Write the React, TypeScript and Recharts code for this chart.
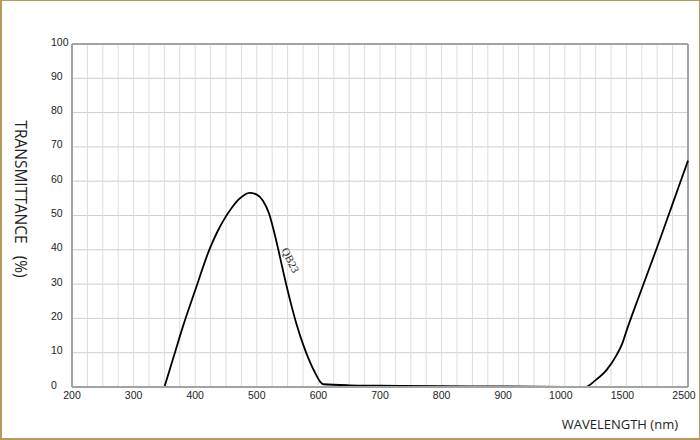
import React from 'react';
import {
  LineChart,
  Line,
  XAxis,
  YAxis,
  CartesianGrid,
  ReferenceLine,
  ReferenceDot,
} from 'recharts';

// wavelength (nm) and transmittance (%)
const wavelengths = [
  350, 365, 380, 400, 424, 435, 445, 460, 472, 488, 500, 510, 520, 527, 535, 545,
  555, 565, 575, 586, 595, 603, 608, 650, 700, 800, 900, 1000, 1100, 1164, 1250,
  1340, 1420, 1470, 1490, 1720, 2000, 2250, 2500,
];
const transmittance = [
  0, 8.8, 17.6, 28.2, 40.5, 44.9, 48.3, 52.4, 54.9, 56.6, 56.1, 54.3, 50.5, 46, 40, 32,
  24.6, 18, 12.5, 7.4, 4, 1.5, 0.8, 0.5, 0.4, 0.25, 0.15, 0.05, 0, 0, 2,
  5, 9.3, 13, 15.2, 27.2, 40.8, 53.4, 66,
];

// axis labels, evenly spaced even though the steps are not
const tickLabels = ['200', '300', '400', '500', '600', '700', '800', '900', '1000', '1500', '2500'];
const tickWavelengths = [200, 300, 400, 500, 600, 700, 800, 900, 1000, 1500, 2500];
const yTicks = [0, 10, 20, 30, 40, 50, 60, 70, 80, 90, 100];

const curveLabel = { text: 'QB23', wavelength: 555, value: 37 };

// piecewise axis: each labelled step takes one equal slot
const toSlot = (wl: number) => {
  for (let i = 0; i < tickWavelengths.length - 1; i++) {
    const a = tickWavelengths[i];
    const b = tickWavelengths[i + 1];
    if (wl <= b) return i + (wl - a) / (b - a);
  }
  return tickWavelengths.length - 1;
};

const data = wavelengths.map((wl, i) => ({ pos: toSlot(wl), t: transmittance[i] }));

const gridTicks: number[] = [];
for (let i = 0; i <= (tickLabels.length - 1) * 4; i++) gridTicks.push(i / 4);

const AXIS = '#a3a3a3';
const FONT = '"Liberation Sans", Arial, sans-serif';
const TITLE_FONT = '"Open Sans", sans-serif';

const YTick = (props: any) => {
  const { y, payload } = props;
  return (
    <text x={51} y={y} dy={1.5} fontSize={10.5} fontFamily={FONT} fill="#222" textAnchor="start">
      {payload.value}
    </text>
  );
};

const XTick = (props: any) => {
  const { x, y, payload } = props;
  const v = payload.value;
  if (Math.abs(v - Math.round(v)) > 1e-6) return null;
  const i = Math.round(v);
  // the last few labels sit a little left of their gridline
  const nudge = i >= tickLabels.length - 3 ? -4 : 0;
  return (
    <text x={x} y={y} dx={nudge} dy={4} fontSize={10.5} fontFamily={FONT} fill="#222" textAnchor="middle">
      {tickLabels[i]}
    </text>
  );
};

export default function App() {
  return (
    <div
      style={{
        position: 'absolute',
        left: 0,
        top: 0,
        width: 700,
        height: 440,
        background: '#fff',
        boxSizing: 'border-box',
        borderLeft: '2px solid #b69a5c',
        borderBottom: '2px solid #b69a5c',
        borderTop: '1px solid #b69a5c',
        borderRight: '1px solid #b69a5c',
      }}
    >
      <div style={{ position: 'absolute', left: -2, top: -1 }}>
        <LineChart width={700} height={440} data={data} margin={{ top: 44, right: 12, bottom: 23, left: 0 }}>
          <CartesianGrid vertical={false} stroke="#cfcfcf" />
          <CartesianGrid horizontal={false} stroke="#dcdcdc" />
          <XAxis
            type="number"
            dataKey="pos"
            domain={[0, tickLabels.length - 1]}
            ticks={gridTicks}
            interval={0}
            tickLine={false}
            axisLine={{ stroke: AXIS, strokeWidth: 2 }}
            tick={<XTick />}
            height={30}
            label={{
              content: () => (
                <text x={678} y={429} textAnchor="end" fontSize={13} fontFamily={TITLE_FONT} fill="#222">
                  WAVELENGTH (nm)
                </text>
              ),
            }}
          />
          <YAxis
            type="number"
            domain={[0, 100]}
            ticks={yTicks}
            interval={0}
            tickLine={false}
            axisLine={{ stroke: AXIS, strokeWidth: 2 }}
            tick={<YTick />}
            width={72}
            label={{
              content: () => (
                <text
                  x={21}
                  y={199}
                  transform="rotate(90 21 199)"
                  textAnchor="middle"
                  dominantBaseline="central"
                  fontSize={15.5}
                  fontFamily={TITLE_FONT}
                  fill="#222"
                  style={{ whiteSpace: 'pre' }}
                >
                  {'TRANSMITTANCE   (%)'}
                </text>
              ),
            }}
          />
          <ReferenceLine y={100} stroke={AXIS} strokeWidth={2} />
          <ReferenceLine x={tickLabels.length - 1} stroke={AXIS} strokeWidth={2} />
          <Line
            type="monotone"
            dataKey="t"
            stroke="#000"
            strokeWidth={1.8}
            dot={false}
            isAnimationActive={false}
          />
          <ReferenceDot
            x={toSlot(curveLabel.wavelength)}
            y={curveLabel.value}
            r={0}
            shape={(p: any) => (
              <text
                x={p.cx}
                y={p.cy}
                transform={`rotate(64 ${p.cx} ${p.cy})`}
                textAnchor="middle"
                dominantBaseline="central"
                fontSize={11}
                fontFamily='"Liberation Serif", "Times New Roman", serif'
                fill="#222"
              >
                {curveLabel.text}
              </text>
            )}
          />
        </LineChart>
      </div>
    </div>
  );
}
